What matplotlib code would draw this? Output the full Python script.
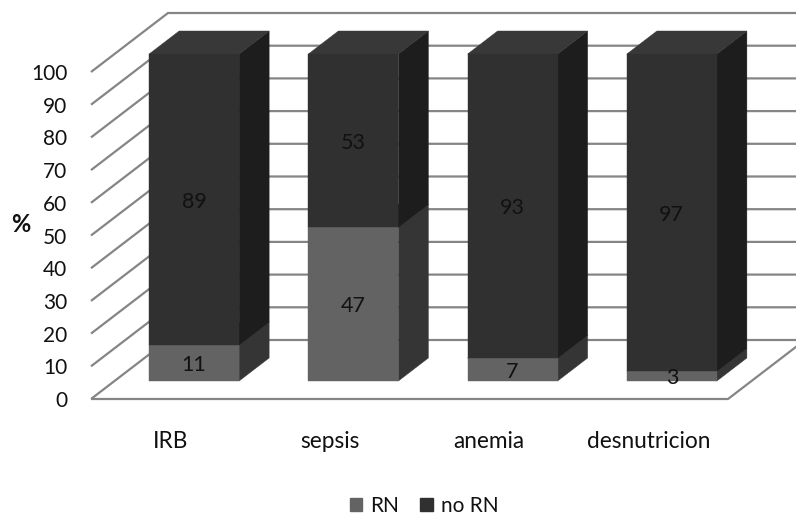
from matplotlib import pyplot as plt
from matplotlib.patches import Patch, Polygon

plt.rcParams['font.family'] = ['Lato', 'DejaVu Sans']

categories = ['IRB', 'sepsis', 'anemia', 'desnutricion']
rn = [11, 47, 7, 3]
no_rn = [89, 53, 93, 97]
y_ticks = list(range(0, 101, 10))

W, H = 796, 514
GRID = '#858585'
# front/side/top shades of each stacked segment
RN_COL = ('#636363', '#353535', '#353535')
NO_COL = ('#303030', '#1d1d1d', '#383838')

# shear of the 3D box, one full depth unit in data coordinates
DEPTH_X = 77 / 159.25
DEPTH_Y = 59 / 3.27
BAR_W = 90 / 159.25
D_FRONT = 0.305
D_BACK = 0.695

fig = plt.figure(figsize=(W / 100, H / 100), dpi=100)
ax = fig.add_axes([91 / W, (H - 399) / H, 637 / W, 327 / H])
ax.set_xlim(0, 4)
ax.set_ylim(0, 100)
for s in ax.spines.values():
    s.set_visible(False)
ax.patch.set_visible(False)


def project(x, v, d):
    return x + d * DEPTH_X, v + d * DEPTH_Y


def grid_line(points, z=1):
    xs = [project(*p)[0] for p in points]
    ys = [project(*p)[1] for p in points]
    ax.plot(xs, ys, color=GRID, lw=1.6, clip_on=False, zorder=z,
            solid_capstyle='butt', solid_joinstyle='miter')


def face(points, color, z):
    ax.add_patch(Polygon([project(*p) for p in points], closed=True, facecolor=color,
                         edgecolor=color, lw=0.3, clip_on=False, zorder=z))


def segment(i, bottom, top, colors):
    left = i + 0.5 - BAR_W / 2
    right = i + 0.5 + BAR_W / 2
    face([(right, bottom, D_FRONT), (right, bottom, D_BACK),
          (right, top, D_BACK), (right, top, D_FRONT)], colors[1], 3)
    face([(left, top, D_FRONT), (right, top, D_FRONT),
          (right, top, D_BACK), (left, top, D_BACK)], colors[2], 3)
    face([(left, bottom, D_FRONT), (right, bottom, D_FRONT),
          (right, top, D_FRONT), (left, top, D_FRONT)], colors[0], 4)
    lx, ly = project(i + 0.5, (bottom + top) / 2, D_FRONT)
    ax.text(lx, ly, str(round(top - bottom)), ha='center', va='center_baseline',
            fontsize=15.5, color='#111111', zorder=6, clip_on=False)


# side wall and back wall lines, the floor gets the front edge too
for v in y_ticks:
    grid_line([(0, v, 0), (0, v, 1), (4.3, v, 1)])
grid_line([(0, 0, 0), (4, 0, 0), (4, 0, 1)])

for i in range(len(categories)):
    segment(i, 0, rn[i], RN_COL)
    segment(i, rn[i], rn[i] + no_rn[i], NO_COL)

ax.set_yticks(y_ticks)
ax.set_xticks([i + 0.5 for i in range(len(categories))])
ax.set_xticklabels(categories)
ax.tick_params(axis='y', length=0, pad=17, labelsize=15, labelcolor='#111111')
ax.tick_params(axis='x', length=0, pad=23, labelsize=16.3, labelcolor='#111111')
for t in ax.get_yticklabels():
    t.set_va('center_baseline')

fig.text(21 / W, 1 - 225 / H, '%', ha='center', va='center',
         fontsize=17, fontweight='bold', color='#111111')

handles = [Patch(color=RN_COL[0], label='RN'), Patch(color=NO_COL[0], label='no RN')]
fig.legend(handles=handles, loc='center', bbox_to_anchor=(424 / W, 1 - 505.5 / H), ncol=2,
           frameon=False, fontsize=15, handlelength=0.6, handleheight=0.6,
           handletextpad=0.4, columnspacing=1.0, labelcolor='#111111',
           borderpad=0, borderaxespad=0)

fig.savefig('out.png', dpi=100)
